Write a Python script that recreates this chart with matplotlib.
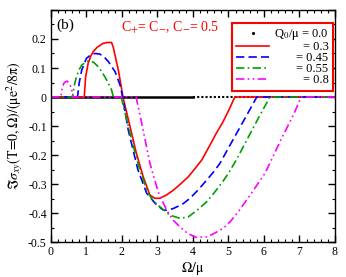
import numpy as np
import matplotlib
matplotlib.use("Agg")
import matplotlib.pyplot as plt
from matplotlib.ticker import MultipleLocator, FixedLocator, FixedFormatter
from matplotlib.lines import Line2D

plt.rcParams['font.family'] = ['Liberation Serif', 'DejaVu Serif']
plt.rcParams['mathtext.fontset'] = 'stix'

# ---- data ----
q00_x = [0.0, 4.0, 8.0]
q00_y = [0.0, 0.0, 0.0]

red_x = [0, 0.94, 0.98, 1.05, 1.12, 1.19, 1.3, 1.47, 1.6, 1.71, 1.76, 1.9, 1.99, 2.03,
         2.23, 2.4, 2.6, 2.79, 2.93, 3.07, 3.25, 3.45, 3.65, 3.87, 4.05, 4.25, 4.48,
         4.65, 4.85, 5.02, 5.18, 8]
red_y = [0, 0, 0.07, 0.116, 0.14, 0.156, 0.171, 0.185, 0.188, 0.188, 0.17, 0.093, 0.03, 0.0,
         -0.102, -0.19, -0.275, -0.338, -0.349, -0.349, -0.338, -0.321, -0.3, -0.275, -0.248,
         -0.217, -0.166, -0.127, -0.085, -0.043, 0, 0]

blue_x = [0, 0.75, 0.8, 0.87, 1.0, 1.12, 1.24, 1.38, 1.5, 1.62, 1.81, 1.95, 2.02, 2.18,
          2.45, 2.7, 2.98, 3.17, 3.3, 3.45, 3.7, 3.92, 4.15, 4.39, 4.57, 4.76, 5.04, 5.46,
          5.8, 8]
blue_y = [0, 0, 0.05, 0.093, 0.133, 0.145, 0.15, 0.148, 0.138, 0.122, 0.087, 0.041, 0.0, -0.114,
          -0.25, -0.332, -0.372, -0.39, -0.39, -0.384, -0.37, -0.349, -0.32, -0.286, -0.26,
          -0.229, -0.167, -0.075, 0, 0]

green_x = [0, 0.61, 0.66, 0.72, 0.8, 0.87, 1.0, 1.1, 1.2, 1.29, 1.4, 1.52, 1.62, 1.71, 1.76,
           1.98, 2.1, 2.3, 2.5, 2.74, 2.9, 3.07, 3.35, 3.63, 3.87, 4.1, 4.39, 4.6, 4.85, 5.0,
           5.23, 5.51, 5.89, 6.17, 8]
green_y = [0, 0, 0.04, 0.07, 0.095, 0.11, 0.122, 0.125, 0.12, 0.11, 0.093, 0.07, 0.047, 0.024, 0,
           0, -0.06, -0.16, -0.25, -0.332, -0.36, -0.378, -0.407, -0.418, -0.413, -0.392, -0.361,
           -0.33, -0.29, -0.263, -0.215, -0.15, -0.062, 0, 0]

mag_x = [0, 0.28, 0.32, 0.38, 0.45, 0.52, 0.58, 0.62, 2.4, 2.47, 2.56, 2.79, 3.02, 3.26, 3.45,
         3.63, 3.85, 4.1, 4.39, 4.6, 4.85, 5.05, 5.28, 5.6, 6.03, 6.5, 6.83, 7.05, 8]
mag_y = [0, 0, 0.035, 0.05, 0.055, 0.048, 0.03, 0, 0, -0.04, -0.091, -0.229, -0.326, -0.39, -0.425,
         -0.447, -0.47, -0.484, -0.482, -0.47, -0.453, -0.43, -0.395, -0.34, -0.263, -0.142,
         -0.062, 0, 0]

labels = [r'Q$_0$/$\mathrm{\mu}$ = 0.0', '= 0.3', '= 0.45', '= 0.55', '= 0.8']
ytick_vals = [-0.5, -0.4, -0.3, -0.2, -0.1, 0.0, 0.1, 0.2]
ytick_labels = ['-0.5', '-0.4', '-0.3', '-0.2', '-0.1', '0', '0.1', '0.2']
xtick_vals = [0, 1, 2, 3, 4, 5, 6, 7, 8]

# ---- figure ----
fig = plt.figure(figsize=(3.46, 2.77), dpi=100)
ax = fig.add_axes([0.147, 0.126, 0.821, 0.838])

# Q0 = 0 line: solid (dense points) up to 4, dotted beyond
ax.plot(q00_x[:2], q00_y[:2], color='black', lw=1.8, zorder=1)
ax.plot(q00_x[1:], q00_y[1:], color='black', lw=1.5, ls=(0, (1, 1)), zorder=1)

lw = 1.2
ax.plot(red_x, red_y, color='#ff0000', lw=lw, ls='-')
ax.plot(blue_x, blue_y, color='#0000ff', lw=lw, ls=(0, (5, 2.5)))
ax.plot(green_x, green_y, color='#00a000', lw=lw, ls=(0, (5, 2, 1, 2)))
ax.plot(mag_x, mag_y, color='#ff00ff', lw=lw, ls=(0, (5, 2, 1, 2, 1, 2)))

ax.set_xlim(0, 8)
ax.set_ylim(-0.5, 0.3)
ax.xaxis.set_major_locator(FixedLocator(xtick_vals))
ax.xaxis.set_minor_locator(MultipleLocator(0.2))
ax.yaxis.set_major_locator(FixedLocator(ytick_vals + [0.3]))
ax.yaxis.set_major_formatter(FixedFormatter(ytick_labels + ['']))
ax.yaxis.set_minor_locator(MultipleLocator(0.05))
ax.tick_params(which='both', direction='in', top=True, right=True, labelsize=8.5, pad=3)
ax.tick_params(which='major', length=5, width=1)
ax.tick_params(which='minor', length=2.5, width=0.8)
for s in ax.spines.values():
    s.set_linewidth(1.0)

ax.set_xlabel(r'$\Omega/\mathrm{\mu}$', fontsize=10, labelpad=1)
ax.set_ylabel(r'$\Im\sigma_{xy}\mathrm{(T\!=\!0,\Omega)/(\mu e^2/8\pi)}$', fontsize=10, labelpad=2)

ax.text(0.02, 0.965, '(b)', transform=ax.transAxes, fontsize=11, va='top', ha='left')
ax.text(0.248, 0.958, r'C$_{\!+}\!$= C$_{\!-}\!$, C$_{\!-}\!$= 0.5', transform=ax.transAxes,
        fontsize=10, va='top', ha='left', color='#ff0000')

handles = [Line2D([], [], color='black', marker='.', ms=2.5, ls='none'),
           Line2D([], [], color='#ff0000', lw=lw, ls='-'),
           Line2D([], [], color='#0000ff', lw=lw, ls=(0, (5, 2.5))),
           Line2D([], [], color='#00a000', lw=lw, ls=(0, (5, 2, 1, 2))),
           Line2D([], [], color='#ff00ff', lw=lw, ls=(0, (5, 2, 1, 2, 1, 2)))]
leg = ax.legend(handles, labels, loc='upper right', bbox_to_anchor=(0.993, 0.944),
                fontsize=9, frameon=True, fancybox=False, edgecolor='#ff0000',
                framealpha=1, handlelength=2.6, labelspacing=-0.08, borderpad=0.35,
                handletextpad=0.4, borderaxespad=0)
leg.get_frame().set_linewidth(1.5)
fig.canvas.draw()
r = fig.canvas.get_renderer()
texts = leg.get_texts()
widths = [t.get_window_extent(r).width for t in texts]
wmax = max(widths)
for t, w in zip(texts, widths):
    t.set_position((wmax - w, 0))

fig.savefig('out.png', dpi=100)
